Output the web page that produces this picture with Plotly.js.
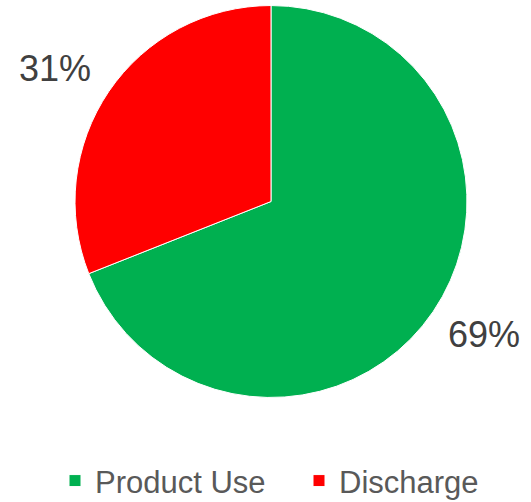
<!DOCTYPE html>
<html>
<head>
<meta charset="utf-8">
<script src="https://cdn.plot.ly/plotly-3.0.1.min.js"></script>
<style>html,body{margin:0;padding:0;background:#fff;}#chart{width:531px;height:502px;}</style>
</head>
<body>
<div id="chart"></div>
<script>
const categories = ["Product Use", "Discharge"];
const values = [69, 31];
const colors = ["#00B050", "#FF0000"];

const total = values.reduce((a, b) => a + b, 0);
const pct = values.map(v => Math.round(v / total * 100) + "%");

const labelPos = [
  {x: 0.9115, y: 0.3327},
  {x: 0.1045, y: 0.8635}
];

const data = [{
  type: "pie",
  labels: categories,
  values: values,
  sort: false,
  direction: "clockwise",
  rotation: 0,
  marker: {colors: colors, line: {color: "#ffffff", width: 1}},
  textinfo: "none",
  textposition: "none",
  hoverinfo: "label+percent",
  domain: {x: [0.1412, 0.8795], y: [0.2082, 0.989]}
}];

const layout = {
  width: 531,
  height: 502,
  margin: {l: 0, r: 0, t: 0, b: 0, autoexpand: false},
  paper_bgcolor: "#ffffff",
  font: {family: "Liberation Sans, Arial, sans-serif"},
  showlegend: true,
  legend: {
    orientation: "h",
    x: 0.1036, xanchor: "left",
    y: 0.042, yanchor: "middle",
    entrywidth: 199,
    font: {size: 31, color: "#595959"},
    itemclick: false
  },
  annotations: pct.map((t, i) => ({
    text: t,
    x: labelPos[i].x, y: labelPos[i].y,
    xref: "paper", yref: "paper",
    xanchor: "center", yanchor: "middle",
    showarrow: false,
    font: {size: 36, color: "#404040"}
  }))
};

Plotly.newPlot("chart", data, layout, {displayModeBar: false, staticPlot: true});
</script>
</body>
</html>
